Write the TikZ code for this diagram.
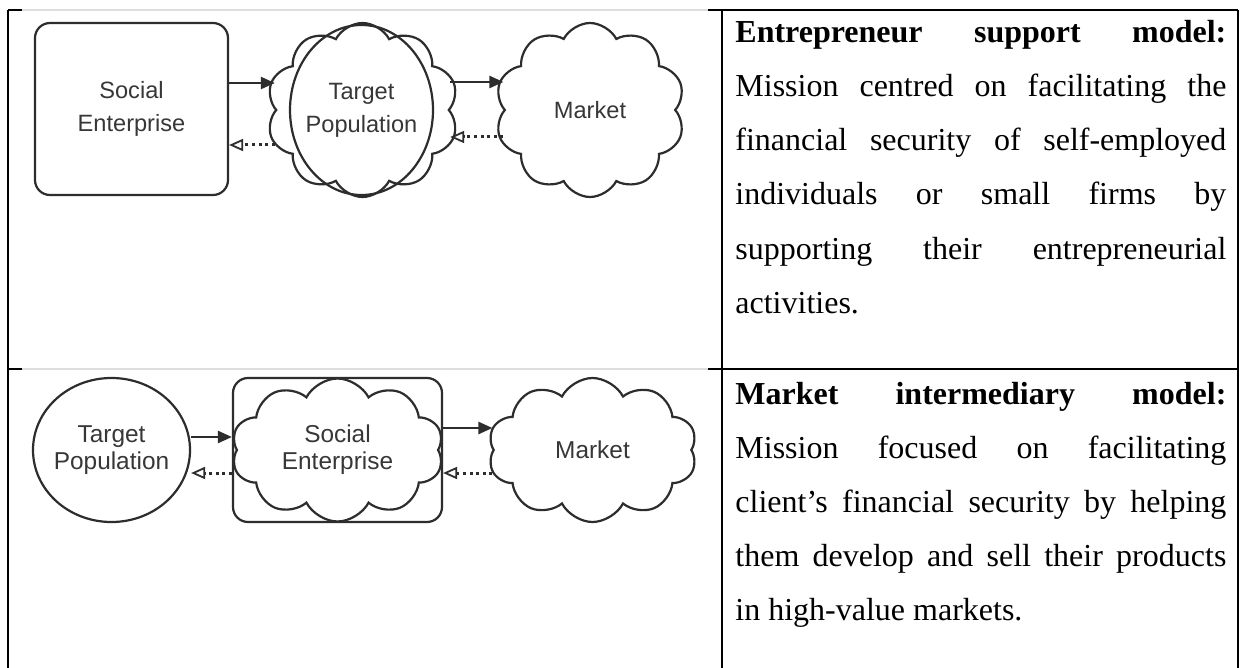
\documentclass[tikz,border=0pt]{standalone}
\usepackage{fontspec}
\setmainfont{Liberation Serif}
\newfontfamily\diagfont{Liberation Sans}
\usetikzlibrary{shapes.geometric,shapes.symbols,arrows.meta}
\definecolor{linecol}{RGB}{45,45,45}
\definecolor{textcol}{RGB}{55,55,55}
\definecolor{imgedge}{RGB}{222,222,222}
\begin{document}
\begin{tikzpicture}[x=0.5pt,y=-0.5pt,
  tableline/.style={draw=black,line width=0.75pt},
  shapeline/.style={draw=linecol,line width=1.1pt},
  rbox/.style={shapeline,rectangle,rounded corners=7.5pt,inner sep=0pt},
  cloudbox/.style={shapeline,cloud,cloud puffs=10,cloud puff arc=125,cloud ignores aspect,inner sep=0pt},
  ellbox/.style={shapeline,ellipse,inner sep=0pt},
  lblA/.style={font=\diagfont\fontsize{11.8}{16.5}\selectfont,text=textcol,align=center},
  lblB/.style={font=\diagfont\fontsize{12.2}{13.5}\selectfont,text=textcol,align=center},
  solidarr/.style={draw=linecol,line width=1.2pt,-{Triangle[length=7pt,width=6pt]}},
  dotarr/.style={draw=linecol,line width=1.5pt,dash pattern=on 1.5pt off 1.8pt,-{Triangle[open,length=7pt,width=6pt,line width=0.9pt]}},
  txt/.style={anchor=base west,inner sep=0pt,font=\fontsize{16}{20}\selectfont},
]
\useasboundingbox (0,0) rectangle (1240,668);
\fill[white] (0,0) rectangle (1240,668);

% table lines
\draw[tableline] (8,10) -- (22,10);
\draw[tableline] (708,10) -- (1238,10);
\draw[tableline] (8,369) -- (22,369);
\draw[tableline] (708,369) -- (1238,369);
\draw[tableline] (8,10) -- (8,668);
\draw[tableline] (722,10) -- (722,668);
\draw[tableline] (1238,10) -- (1238,668);
\draw[imgedge,line width=0.6pt] (22,10) -- (708,10);
\draw[imgedge,line width=0.6pt] (22,369) -- (708,369);

% ---------- row 1 diagram ----------
\node[rbox,minimum width=96.5pt,minimum height=86pt,lblA] (se1) at (131.5,109) {Social\\Enterprise};
\node[cloudbox,minimum width=96pt,minimum height=87pt] (tp1c) at (362.5,110) {};
\node[ellbox,minimum width=71.5pt,minimum height=85pt] (tp1e) at (361.5,110) {};
\node[lblA,inner sep=0pt] (tp1t) at (tp1e.center) {Target\\Population};
\node[cloudbox,minimum width=95pt,minimum height=87pt,lblA] (m1) at (590,110) {Market};

\draw[solidarr] ([yshift=13pt]se1.east) -- ([yshift=13pt]se1.east -| tp1c.west);
\draw[dotarr] ([yshift=-18pt]se1.east -| tp1c.west) -- ([yshift=-18pt]se1.east);
\draw[solidarr] ([yshift=14pt]tp1c.east) -- ([yshift=14pt]tp1c.east -| m1.west);
\draw[dotarr] ([yshift=-13.5pt]tp1c.east -| m1.west) -- ([yshift=-13.5pt]tp1c.east);

% ---------- row 2 diagram ----------
\node[ellbox,minimum width=78.5pt,minimum height=72pt] (tp2) at (111.5,450) {};
\node[lblB,inner sep=0pt] (tp2t) at (tp2.center) {Target\\Population};
\node[rbox,minimum width=104.5pt,minimum height=72pt] (se2r) at (337.5,450) {};
\node[cloudbox,minimum width=106pt,minimum height=71.5pt,lblB] (se2c) at (337.5,450) {Social\\Enterprise};
\node[cloudbox,minimum width=104.5pt,minimum height=72pt,lblB] (m2) at (592.5,450) {Market};

\draw[solidarr] ([yshift=6.5pt]tp2.east) -- ([yshift=6.5pt]tp2.east -| se2r.west);
\draw[dotarr] ([yshift=-11.5pt]tp2.east -| se2r.west) -- ([yshift=-11.5pt]tp2.east);
\draw[solidarr] ([yshift=11pt]se2r.east) -- ([yshift=11pt]se2r.east -| m2.west);
\draw[dotarr] ([yshift=-11.5pt]se2r.east -| m2.west) -- ([yshift=-11.5pt]se2r.east);

% ---------- row 1 text ----------
\node[txt] (t1a) at (735,43) {\makebox[245.5pt][s]{\textbf{Entrepreneur support model:}}};
\node[txt] (t1b) at (735,97) {\makebox[245.5pt][s]{Mission centred on facilitating the}};
\node[txt] (t1c) at (735,151) {\makebox[245.5pt][s]{financial security of self-employed}};
\node[txt] (t1d) at (735,205) {\makebox[245.5pt][s]{individuals or small firms by}};
\node[txt] (t1e) at (735,259) {\makebox[245.5pt][s]{supporting their entrepreneurial}};
\node[txt] (t1f) at (735,313) {activities.};

% ---------- row 2 text ----------
\node[txt] (t2a) at (735,404) {\makebox[245.5pt][s]{\textbf{Market intermediary model:}}};
\node[txt] (t2b) at (735,458) {\makebox[245.5pt][s]{Mission focused on facilitating}};
\node[txt] (t2c) at (735,512) {\makebox[245.5pt][s]{client’s financial security by helping}};
\node[txt] (t2d) at (735,566) {\makebox[245.5pt][s]{them develop and sell their products}};
\node[txt] (t2e) at (735,620) {in high-value markets.};
\end{tikzpicture}
\end{document}
